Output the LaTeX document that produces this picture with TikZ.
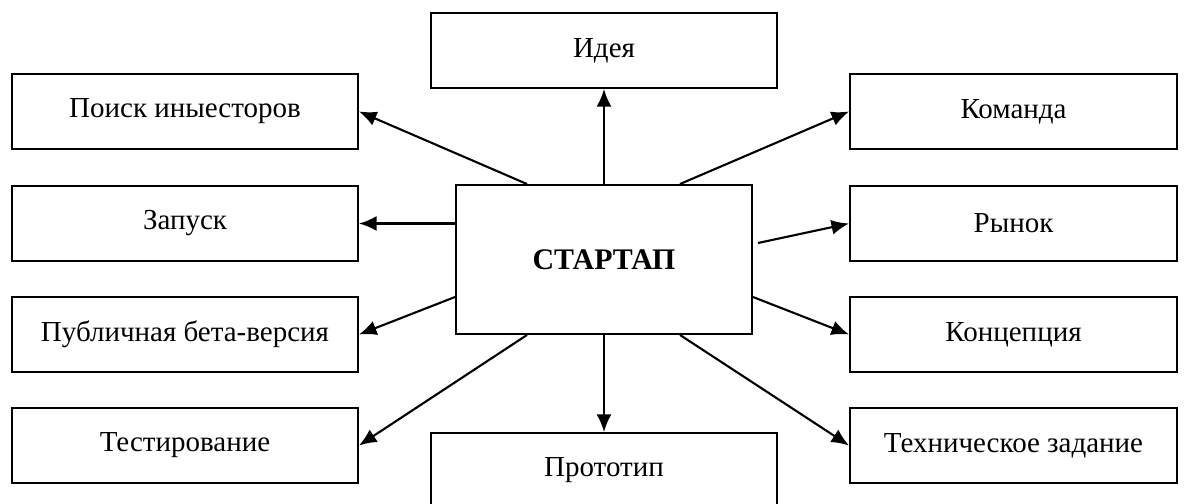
\documentclass[tikz,border=0pt]{standalone}
\usepackage{fontspec}
\setmainfont{Liberation Serif}
\usetikzlibrary{arrows.meta}

\begin{document}
\begin{tikzpicture}[
    box/.style={draw,line width=1.1pt,minimum height=1.5cm,font=\fontsize{16.5}{20}\selectfont},
    leftbox/.style={box,minimum width=6.92cm},
    rightbox/.style={box,minimum width=6.54cm},
    arr/.style={-{Latex[length=10pt,width=8.5pt]},line width=1.2pt}]
                    \useasboundingbox (0,0) rectangle (23.7,-10.08);

                    \node[box,minimum width=5.92cm,minimum height=2.98cm,font=\fontsize{17}{20}\selectfont\bfseries] (start) at (12.08,-5.19) {СТАРТАП};

                    \node[leftbox] (idea) at (12.08,-1.01) {Идея};
                    \node[leftbox] (proto) at (12.08,-9.41) {Прототип};

                    \node[leftbox] (poisk) at (3.70,-2.23) {Поиск иныесторов};
                    \node[leftbox] (zapusk) at (3.70,-4.47) {Запуск};
                    \node[leftbox] (beta) at (3.70,-6.69) {Публичная бета-версия};
                    \node[leftbox] (test) at (3.70,-8.91) {Тестирование};

                    \node[rightbox] (komanda) at (20.27,-2.23) {Команда};
                    \node[rightbox] (rynok) at (20.27,-4.47) {Рынок};
                    \node[rightbox] (konc) at (20.27,-6.69) {Концепция};
                    \node[rightbox] (tz) at (20.27,-8.91) {Техническое задание};

                    \draw[arr] (start.north) -- (idea.south);
                    \draw[arr] (start.south) -- (proto.north);
                    \draw[arr] ([xshift=-1.54cm]start.north) -- (poisk.east);
                    \draw[arr] ([xshift=1.52cm]start.north) -- (komanda.west);
                    \draw[arr] (start.west |- zapusk) -- (zapusk.east);
                    \draw[arr] ([xshift=0.1cm,yshift=0.33cm]start.east) -- (rynok.west);
                    \draw[arr] ([yshift=-0.75cm]start.west) -- (beta.east);
                    \draw[arr] ([yshift=-0.75cm]start.east) -- (konc.west);
                    \draw[arr] ([xshift=-1.54cm]start.south) -- (test.east);
                    \draw[arr] ([xshift=1.52cm]start.south) -- (tz.west);
                \end{tikzpicture}
\end{document}
